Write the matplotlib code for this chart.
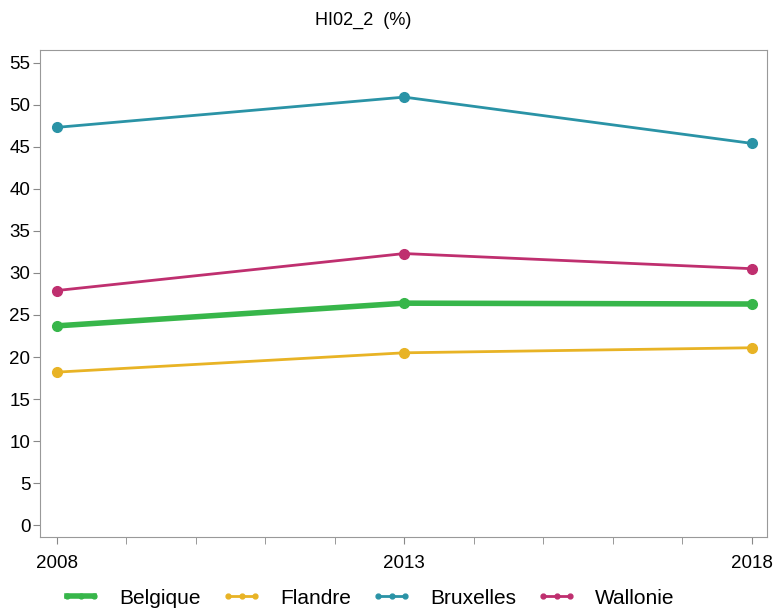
import matplotlib.pyplot as plt
from matplotlib.ticker import MultipleLocator

plt.rcParams['font.family'] = ['Liberation Sans', 'DejaVu Sans']

years = [2008, 2013, 2018]
belgique = [23.7, 26.4, 26.3]
flandre = [18.2, 20.5, 21.1]
bruxelles = [47.3, 50.9, 45.4]
wallonie = [27.9, 32.3, 30.5]

series = [
    ("Belgique", belgique, "#37b64a", 4.0),
    ("Flandre", flandre, "#e8b325", 2.0),
    ("Bruxelles", bruxelles, "#2a93a6", 2.0),
    ("Wallonie", wallonie, "#bf2f6f", 2.0),
]

fig = plt.figure(figsize=(7.75, 6.11), dpi=100)
ax = fig.add_axes([40 / 775, 1 - 537 / 611, 727 / 775, 487 / 611])

for name, vals, color, lw in series:
    ax.plot(years, vals, color=color, linewidth=lw, marker='o', markersize=7, label=name)

ax.set_xlim(2007.76, 2018.22)
ax.set_ylim(-1.4, 56.5)
ax.set_xticks(years)
ax.set_xticklabels([str(y) for y in years])
ax.xaxis.set_minor_locator(MultipleLocator(1))
ax.yaxis.set_major_locator(MultipleLocator(5))
ax.tick_params(labelsize=13.5, color='#888888', length=5)
ax.tick_params(axis='x', pad=8)
ax.tick_params(axis='y', pad=2)
ax.tick_params(axis='x', which='minor', color='#888888', length=5)
for s in ax.spines.values():
    s.set_color('#999999')

fig.text(363 / 775, 1 - 20 / 611, "HI02_2  (%)", ha='center', va='center', fontsize=13)

leg = fig.legend(loc='center', bbox_to_anchor=(368 / 775, 1 - 598 / 611), ncol=4, frameon=False,
                 fontsize=15, numpoints=3, markerscale=0.5, handlelength=1.9,
                 handletextpad=0.9, columnspacing=1.0)

plt.savefig("out.png", dpi=100)
